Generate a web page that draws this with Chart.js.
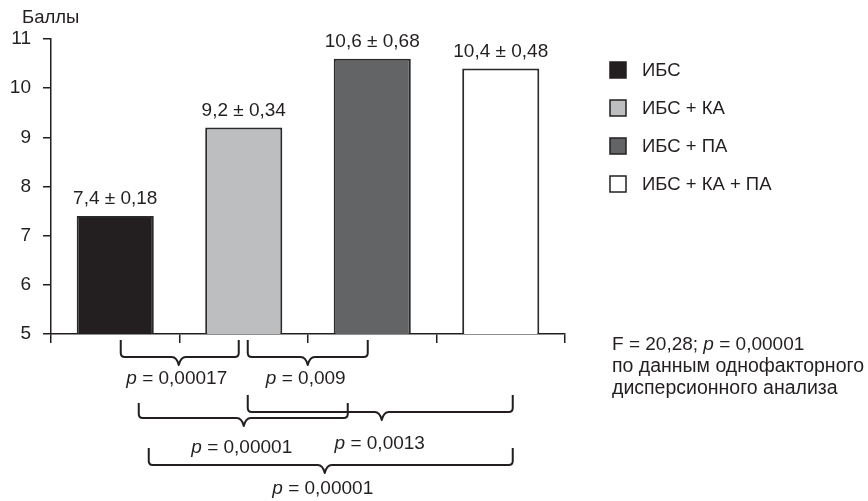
<!DOCTYPE html>
<html>
<head>
<meta charset="utf-8">
<script src="https://cdn.jsdelivr.net/npm/chart.js@4"></script>
<style>
  html, body { margin: 0; padding: 0; background: #fff; }
  canvas { display: block; }
</style>
</head>
<body>
<canvas id="chart" width="868" height="501"></canvas>
<script>
// данные
const groups = ['ИБС', 'ИБС + КА', 'ИБС + ПА', 'ИБС + КА + ПА'];
const means = [7.4, 9.2, 10.6, 10.4];
const errors = [0.18, 0.34, 0.68, 0.48];
const yTicks = [5, 6, 7, 8, 9, 10, 11];
const pairs = [[0, 1], [1, 2], [0, 2], [1, 3], [0, 3]];
const pValues = ['0,00017', '0,009', '0,00001', '0,0013', '0,00001'];
const anovaLines = ['по данным однофакторного', 'дисперсионного анализа'];

const INK = '#231f20';
const fills = ['#231f20', '#bcbec0', '#636466', '#ffffff'];
const FONT = '"Liberation Sans", Arial, sans-serif';

// где рисуем скобки (смещения от центров столбиков)
const bracketLayout = [
    { l: 5.5, r: -5, top: 340, mid: 357, notch: -1, label: 379 },
    { l: 4, r: -4.5, top: 340, mid: 357, notch: 0, label: 379 },
    { l: 23.5, r: -24.5, top: 403, mid: 418, notch: 0.5, label: 448 },
    { l: 4, r: 12, top: 395, mid: 412, notch: 1.5, label: 444 },
    { l: 33.5, r: 12, top: 448, mid: 465, notch: -6, label: 489 }
];

const fmt = (v, d) => v.toFixed(d).replace('.', ',');

function drawRich(ctx, parts, x, y, align) {
    let total = 0;
    parts.forEach(p => { ctx.font = p[1]; total += ctx.measureText(p[0]).width; });
    let cx = align === 'center' ? x - total / 2 : x;
    ctx.textAlign = 'left';
    parts.forEach(p => {
        ctx.font = p[1];
        ctx.fillText(p[0], cx, y);
        cx += ctx.measureText(p[0]).width;
    });
}

const pText = (val, size) => [
    ['p', 'italic ' + size + 'px ' + FONT],
    [' = ' + val, size + 'px ' + FONT]
];

const extras = {
    id: 'extras',
    afterDraw(chart) {
        const ctx = chart.ctx;
        const xs = chart.scales.x;
        const meta = chart.getDatasetMeta(0);
        ctx.save();
        ctx.fillStyle = INK;
        ctx.strokeStyle = INK;
        ctx.textBaseline = 'alphabetic';

        // подпись оси
        ctx.font = '18.5px ' + FONT;
        ctx.textAlign = 'left';
        ctx.fillText('Баллы', 22, 23);

        // значения над столбиками
        ctx.font = '19px ' + FONT;
        ctx.textAlign = 'center';
        meta.data.forEach((bar, i) => {
            ctx.fillText(fmt(means[i], 1) + ' ± ' + fmt(errors[i], 2), bar.x, bar.y - 12);
        });

        // легенда
        groups.forEach((g, i) => {
            const y = 70 + i * 38;
            ctx.fillStyle = fills[i];
            ctx.fillRect(610, y - 8, 16, 16);
            ctx.lineWidth = 1.5;
            ctx.strokeRect(610, y - 8, 16, 16);
            ctx.fillStyle = INK;
            ctx.font = '18.5px ' + FONT;
            ctx.textAlign = 'left';
            ctx.textBaseline = 'middle';
            ctx.fillText(g, 642, y + 1);
        });
        ctx.textBaseline = 'alphabetic';

        // скобки сравнений
        ctx.lineWidth = 2;
        ctx.lineJoin = 'round';
        pairs.forEach((pr, k) => {
            const s = bracketLayout[k];
            const x1 = xs.getPixelForValue(pr[0]) + s.l;
            const x2 = xs.getPixelForValue(pr[1]) + s.r;
            const n = (x1 + x2) / 2 + s.notch;
            const r = 4;
            ctx.beginPath();
            ctx.moveTo(x1, s.top);
            ctx.lineTo(x1, s.mid - r);
            ctx.quadraticCurveTo(x1, s.mid, x1 + r, s.mid);
            ctx.lineTo(n - 7, s.mid);
            ctx.quadraticCurveTo(n - 2, s.mid, n, s.mid + 8);
            ctx.quadraticCurveTo(n + 2, s.mid, n + 7, s.mid);
            ctx.lineTo(x2 - r, s.mid);
            ctx.quadraticCurveTo(x2, s.mid, x2, s.mid - r);
            ctx.lineTo(x2, s.top);
            ctx.stroke();
            ctx.textBaseline = 'middle';
            drawRich(ctx, pText(pValues[k], 19), n - 2, s.label, 'center');
            ctx.textBaseline = 'alphabetic';
        });

        // итог дисперсионного анализа
        drawRich(ctx, [
            ['F = 20,28; ', '19px ' + FONT],
            ['p', 'italic 19px ' + FONT],
            [' = 0,00001', '19px ' + FONT]
        ], 612, 350, 'left');
        ctx.font = '19.5px ' + FONT;
        anovaLines.forEach((t, i) => ctx.fillText(t, 612, 372 + i * 22));

        ctx.restore();
    }
};

new Chart(document.getElementById('chart'), {
    type: 'bar',
    data: {
        labels: groups,
        datasets: [{
            data: means,
            backgroundColor: fills,
            borderColor: '#2a2a2a',
            borderWidth: 2,
            borderSkipped: false,
            barPercentage: 0.6,
            categoryPercentage: 1
        }]
    },
    options: {
        responsive: false,
        animation: false,
        devicePixelRatio: 1,
        layout: { padding: { top: 39, right: 303, left: 0, bottom: 0 } },
        plugins: { legend: { display: false }, tooltip: { enabled: false } },
        scales: {
            x: {
                offset: true,
                grid: { offset: true, drawOnChartArea: false, tickLength: 9, color: INK, lineWidth: 1.5 },
                border: { color: INK, width: 1.5 },
                ticks: { display: false },
                afterFit: s => { s.height = 167; }
            },
            y: {
                min: yTicks[0],
                max: yTicks[yTicks.length - 1],
                afterBuildTicks: s => { s.ticks = yTicks.map(v => ({ value: v })); },
                ticks: { color: INK, font: { family: FONT, size: 19 }, padding: 12 },
                grid: { drawOnChartArea: false, tickLength: 8, color: INK, lineWidth: 1.5 },
                border: { color: INK, width: 1.5 },
                afterFit: s => { s.width = 51; }
            }
        }
    },
    plugins: [extras]
});
</script>
</body>
</html>
